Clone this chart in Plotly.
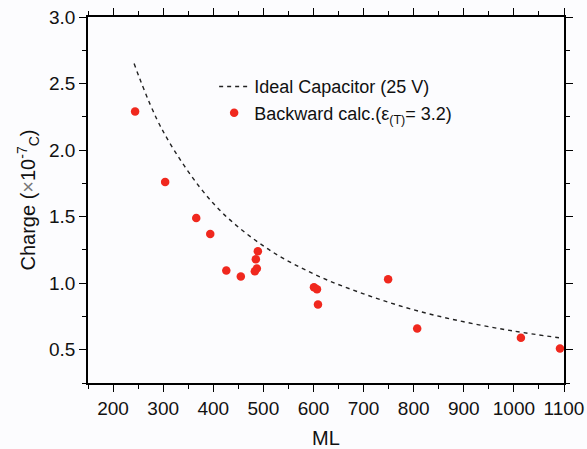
import plotly.graph_objects as go

# Ideal capacitor curve
ideal_ml = [242, 300, 400, 500, 600, 700, 800, 900, 1000, 1090]
ideal_q = [2.65, 2.14, 1.60, 1.28, 1.07, 0.92, 0.80, 0.71, 0.64, 0.59]

# Backward calculation points
calc_ml = [244, 304, 366, 394, 426, 455, 489, 485, 487, 483, 601, 607, 609, 749, 807, 1014, 1092]
calc_q = [2.29, 1.76, 1.49, 1.37, 1.095, 1.05, 1.24, 1.18, 1.11, 1.09, 0.97, 0.955, 0.84, 1.03, 0.66, 0.59, 0.51]

x_range = [150, 1100]
y_range = [0.25, 3.0]
x_ticks = [200, 300, 400, 500, 600, 700, 800, 900, 1000, 1100]
y_ticks = [0.5, 1.0, 1.5, 2.0, 2.5, 3.0]

FONT = "Liberation Sans, Arial, sans-serif"
BG = "#fcfcfe"

fig = go.Figure()
fig.add_trace(go.Scatter(
    x=ideal_ml, y=ideal_q, mode="lines", name="Ideal Capacitor (25 V)",
    line=dict(color="#222222", width=1.4, dash="4px,4px"), line_shape="spline"))
fig.add_trace(go.Scatter(
    x=calc_ml, y=calc_q, mode="markers",
    name="Backward calc.(ε<sub>(T)</sub>= 3.2)",
    marker=dict(color="#f0281e", size=8.5, line=dict(width=0))))

common = dict(showline=True, linecolor="black", linewidth=1.5, showgrid=False,
              zeroline=False, tickcolor="black", tickwidth=1.3, automargin=False,
              mirror="allticks")

fig.update_layout(
    width=587, height=449,
    margin=dict(l=88, r=23, t=17, b=66),
    paper_bgcolor=BG, plot_bgcolor=BG,
    font=dict(family=FONT, size=19, color="#111111"),
    xaxis=dict(range=x_range, tickvals=x_ticks, ticks="outside", ticklen=7,
               minor=dict(ticks="outside", ticklen=4, dtick=50, tick0=150,
                          tickcolor="black", tickwidth=1.2),
               title=dict(text="ML", font=dict(size=20), standoff=14),
               tickfont=dict(size=19), **common),
    yaxis=dict(range=y_range, tickvals=y_ticks, tickformat=".1f", ticks="outside",
               ticklen=7,
               minor=dict(ticks="outside", ticklen=4, dtick=0.25, tick0=0.25,
                          tickcolor="black", tickwidth=1.2),
               title=dict(text="Charge (<span style='color:#777'>×</span>10<sup>-7</sup><sub>C</sub>)",
                          font=dict(size=20), standoff=8),
               tickfont=dict(size=19), **common),
    legend=dict(x=0.265, y=0.86, xanchor="left", yanchor="top",
                bgcolor="rgba(0,0,0,0)", font=dict(size=18), tracegroupgap=0),
    showlegend=True,
)

fig.write_html("out.html")
